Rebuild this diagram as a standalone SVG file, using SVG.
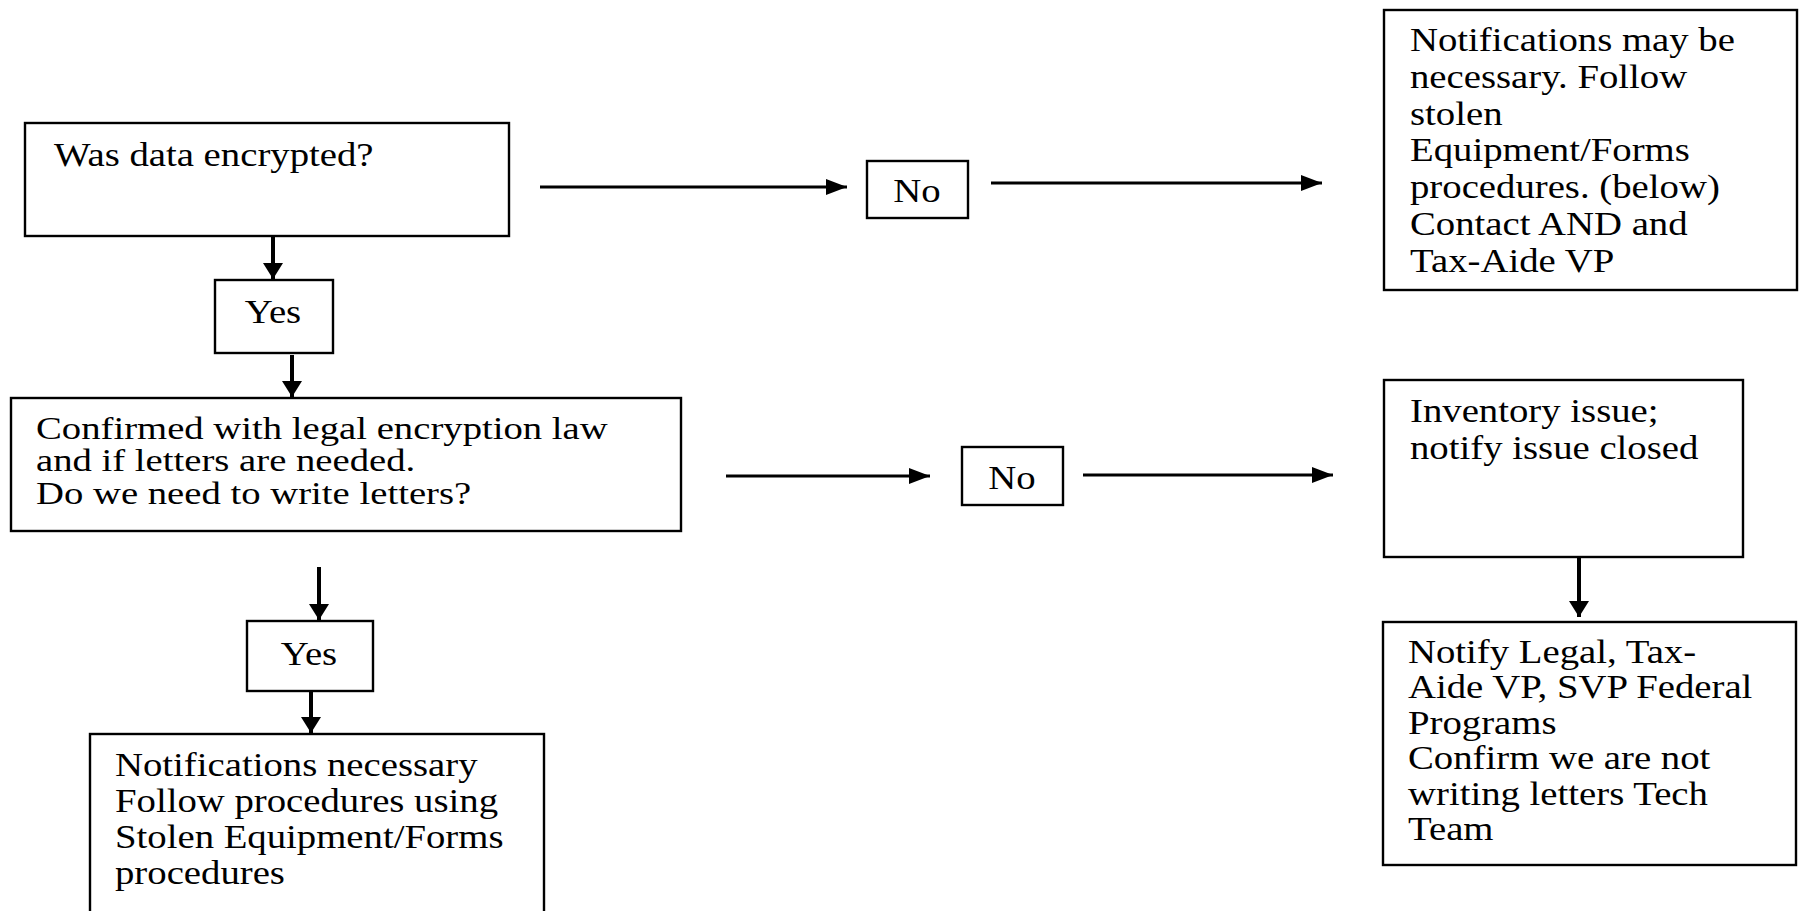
<svg xmlns="http://www.w3.org/2000/svg" width="1799" height="911" viewBox="0 0 1799 911">
  <style>
    .box { fill: #ffffff; stroke: #000000; stroke-width: 2.4; }
    .t { font-family: "Liberation Serif", "Times New Roman", serif; font-size: 34px; fill: #000000; }
    .s { font-size: 32px; }
    .m { text-anchor: middle; }
    .h { stroke: #000000; stroke-width: 3.2; fill: none; }
    .v { stroke: #000000; stroke-width: 4; fill: none; }
  </style>
  <defs>
    <marker id="ah" markerUnits="userSpaceOnUse" markerWidth="21" markerHeight="16" refX="21" refY="8" orient="auto">
      <path d="M0,0 L21,8 L0,16 Z" fill="#000000"/>
    </marker>
    <marker id="av" markerUnits="userSpaceOnUse" markerWidth="16" markerHeight="20" refX="16" refY="10" orient="auto">
      <path d="M0,0 L16,10 L0,20 Z" fill="#000000"/>
    </marker>
  </defs>
  <rect width="1799" height="911" fill="#ffffff"/>

  <g id="connectors">
    <line class="v" x1="273" y1="236" x2="273" y2="279" marker-end="url(#av)"/>
    <line class="v" x1="292" y1="355" x2="292" y2="397" marker-end="url(#av)"/>
    <line class="v" x1="319" y1="567" x2="319" y2="620" marker-end="url(#av)"/>
    <line class="v" x1="311" y1="692" x2="311" y2="733" marker-end="url(#av)"/>
    <line class="v" x1="1579" y1="557" x2="1579" y2="617" marker-end="url(#av)"/>
    <line class="h" x1="540" y1="187" x2="847" y2="187" marker-end="url(#ah)"/>
    <line class="h" x1="991" y1="183" x2="1322" y2="183" marker-end="url(#ah)"/>
    <line class="h" x1="726" y1="476" x2="930" y2="476" marker-end="url(#ah)"/>
    <line class="h" x1="1083" y1="475" x2="1333" y2="475" marker-end="url(#ah)"/>
  </g>

  <g id="encrypted">
    <rect class="box" x="25" y="123" width="484" height="113"/>
    <g transform="translate(54,166) scale(1.14,1)"><text class="t" x="0" y="0">Was data encrypted?</text></g>
  </g>

  <g id="yes1">
    <rect class="box" x="215" y="280" width="118" height="73"/>
    <g transform="translate(273,323) scale(1.14,1)"><text class="t m" x="0" y="0">Yes</text></g>
  </g>

  <g id="legal">
    <rect class="box" x="11" y="398" width="670" height="133"/>
    <g transform="translate(36,439) scale(1.21,1)"><text class="t s" x="0" y="0">
      <tspan x="0" dy="0">Confirmed with legal encryption law</tspan>
      <tspan x="0" dy="32.5">and if letters are needed.</tspan>
      <tspan x="0" dy="32.5">Do we need to write letters?</tspan>
    </text></g>
  </g>

  <g id="yes2">
    <rect class="box" x="247" y="621" width="126" height="70"/>
    <g transform="translate(309,665) scale(1.14,1)"><text class="t m" x="0" y="0">Yes</text></g>
  </g>

  <g id="notify-necessary">
    <rect class="box" x="90" y="734" width="454" height="200"/>
    <g transform="translate(115,776) scale(1.14,1)"><text class="t" x="0" y="0">
      <tspan x="0" dy="0">Notifications necessary</tspan>
      <tspan x="0" dy="36">Follow procedures using</tspan>
      <tspan x="0" dy="36">Stolen Equipment/Forms</tspan>
      <tspan x="0" dy="36">procedures</tspan>
    </text></g>
  </g>

  <g id="no1">
    <rect class="box" x="867" y="161" width="101" height="57"/>
    <g transform="translate(917,202) scale(1.14,1)"><text class="t m" x="0" y="0">No</text></g>
  </g>

  <g id="notify-maybe">
    <rect class="box" x="1384" y="10" width="413" height="280"/>
    <g transform="translate(1410,51) scale(1.14,1)"><text class="t" x="0" y="0">
      <tspan x="0" dy="0">Notifications may be</tspan>
      <tspan x="0" dy="36.8">necessary. Follow</tspan>
      <tspan x="0" dy="36.8">stolen</tspan>
      <tspan x="0" dy="36.8">Equipment/Forms</tspan>
      <tspan x="0" dy="36.8">procedures. (below)</tspan>
      <tspan x="0" dy="36.8">Contact AND and</tspan>
      <tspan x="0" dy="36.8">Tax-Aide VP</tspan>
    </text></g>
  </g>

  <g id="no2">
    <rect class="box" x="962" y="447" width="101" height="58"/>
    <g transform="translate(1012,489) scale(1.14,1)"><text class="t m" x="0" y="0">No</text></g>
  </g>

  <g id="inventory">
    <rect class="box" x="1384" y="380" width="359" height="177"/>
    <g transform="translate(1410,422) scale(1.14,1)"><text class="t" x="0" y="0">
      <tspan x="0" dy="0">Inventory issue;</tspan>
      <tspan x="0" dy="37">notify issue closed</tspan>
    </text></g>
  </g>

  <g id="notify-legal">
    <rect class="box" x="1383" y="622" width="413" height="243"/>
    <g transform="translate(1408,663) scale(1.14,1)"><text class="t" x="0" y="0">
      <tspan x="0" dy="0">Notify Legal, Tax-</tspan>
      <tspan x="0" dy="35.5">Aide VP, SVP Federal</tspan>
      <tspan x="0" dy="35.5">Programs</tspan>
      <tspan x="0" dy="35.5">Confirm we are not</tspan>
      <tspan x="0" dy="35.5">writing letters Tech</tspan>
      <tspan x="0" dy="35.5">Team</tspan>
    </text></g>
  </g>
</svg>
